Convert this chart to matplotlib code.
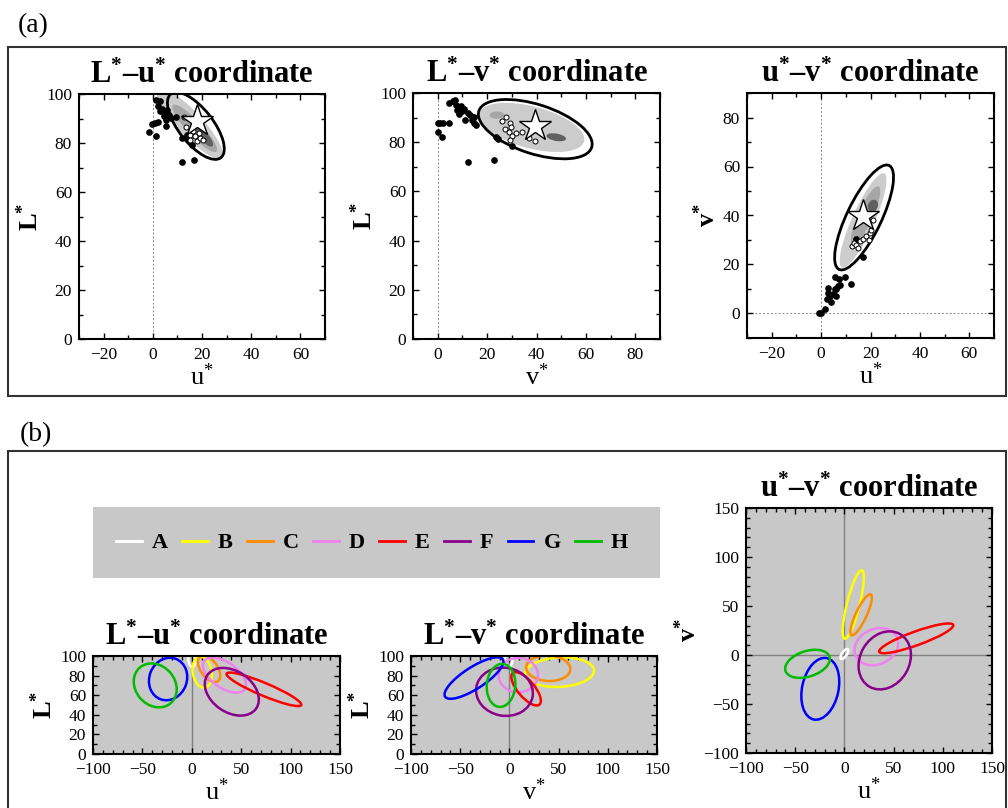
import matplotlib
matplotlib.use('Agg')
import matplotlib.pyplot as plt
from matplotlib.patches import Ellipse, Rectangle
from matplotlib.lines import Line2D
from matplotlib.ticker import MultipleLocator

plt.rcParams['font.family'] = ['Liberation Serif', 'DejaVu Serif']
plt.rcParams['mathtext.fontset'] = 'custom'
plt.rcParams['mathtext.rm'] = 'Liberation Serif'
plt.rcParams['mathtext.it'] = 'Liberation Serif:italic'
plt.rcParams['mathtext.bf'] = 'Liberation Serif:bold'

# ---------------- (a) one colour category ----------------
# L*-u* plane
lu_dot_u = [-1.4, 1.4, -0.3, 0.7, 2.2, 1.5, 2.8, 2.0, 3.8, 2.8, 4.7, 5.8, 6.5, 4.5, 5.4, 7.2,
            5.4, 9.5, 11.9, 13.9, 15.9, 11.9, 16.6, 14.3]
lu_dot_L = [84.5, 82.7, 87.9, 88.2, 88.4, 97.7, 97.0, 95.2, 93.9, 92.9, 92.2, 93.6, 91.6, 90.9, 89.5, 90.2,
            87.1, 90.6, 82.0, 83.4, 79.0, 72.1, 73.2, 81.4]
lu_in_u = [12.6, 13.6, 15.3, 16.4, 17.3, 18.0, 19.3, 20.4, 15.3, 18.6]
lu_in_L = [90.5, 86.5, 83.4, 84.8, 82.7, 80.7, 82.0, 81.4, 81.4, 84.1]
lu_star = (18.0, 88.8)
lu_ellipse = (17.5, 87.0, 33, 14, -52)          # centre x, centre y, major, minor, angle
lu_cloud = [(15, 88, 38, 10, -47), (17, 86, 26, 6, -47), (21, 82.5, 10, 3.5, -50)]

# L*-v* plane
lv_dot_v = [0.0, 1.1, 2.0, 0.0, 1.8, 4.7, 4.7, 6.2, 7.1, 7.5, 7.8, 8.5, 9.4, 9.8, 10.5, 11.2,
            12.1, 13.2, 13.9, 14.6, 14.8, 15.5, 12.3, 22.9, 23.6, 24.4, 30.0]
lv_dot_L = [87.8, 88.0, 88.0, 84.1, 82.1, 88.0, 95.9, 96.6, 97.3, 95.3, 92.9, 91.6, 94.6, 92.5, 93.6, 89.1,
            91.9, 90.9, 89.1, 87.8, 90.2, 87.1, 71.9, 72.6, 82.1, 81.4, 78.6]
lv_in_v = [26.0, 27.6, 29.4, 29.6, 27.4, 28.7, 31.5, 34.2, 30.1, 29.4, 36.8, 39.5]
lv_in_L = [88.5, 90.1, 87.8, 86.2, 85.3, 84.0, 83.7, 84.0, 82.4, 80.8, 81.7, 80.3]
lv_star = (39.2, 86.7)
lv_ellipse = (39.5, 85.3, 48, 20, -18)
lv_cloud = [(38, 86, 44, 17, -15), (24, 91, 6, 3, 0), (48, 82, 8, 3, -10)]

# u*-v* plane
uv_dot_u = [-0.9, 0.1, 1.5, 2.2, 2.8, 3.5, 4.2, 4.9, 5.5, 6.2, 6.9, 5.8, 7.3, 6.2, 7.6, 9.6,
            12.0, 16.8, 14.3, 2.8]
uv_dot_v = [0.1, 0.0, 1.8, 5.8, 8.5, 7.2, 4.5, 7.9, 9.9, 7.2, 11.2, 15.0, 14.2, 10.1, 11.8, 14.9,
            12.2, 23.1, 30.4, 10.5]
uv_in_u = [12.7, 13.4, 14.3, 15.7, 16.8, 18.1, 19.7, 19.2, 20.4, 21.1, 15.0]
uv_in_v = [27.5, 28.8, 28.1, 29.5, 30.5, 31.8, 32.9, 30.2, 34.2, 38.3, 26.8]
uv_star = (16.8, 39.6)
uv_ellipse = (17.4, 39.2, 47, 14, 64.5)
uv_cloud = [(17, 38, 42, 9, 66), (18, 40, 26, 6, 66), (21, 44, 5, 4, 66)]

# ---------------- (b) all eight categories ----------------
names = ['A', 'B', 'C', 'D', 'E', 'F', 'G', 'H']
colors = ['white', '#ffff00', '#ff8c00', '#ee82ee', '#ff0000', '#8b008b', '#0000ff', '#00bb00']
# (centre x, centre y, major, minor, angle of major axis)
lu_ells = [(0, 96, 14, 7, 95), (10.5, 83.5, 32, 19, 100), (17.5, 87, 31, 17, 125), (33, 80.5, 50, 26, 145),
           (73, 66, 82, 13, 157), (40.5, 63.5, 60, 42, 145), (-24, 76.5, 44, 38, 70), (-37, 70, 48, 40, 130)]
lv_ells = [(-1, 96, 14, 8, 90), (51, 83.5, 70, 30, 3), (39.5, 87.5, 45, 26, -3), (9, 80.5, 40, 35, 0),
           (17, 66.5, 42, 17, 130), (-5, 63.5, 58, 49, 170), (-36, 77.5, 70, 22, 33), (-8.5, 70, 44, 29, 85)]
uv_ells = [(0, 1, 12, 5, 55), (9, 51.5, 72, 13, 76), (17, 41, 46, 11, 65), (32.5, 8.5, 46, 36, 25),
           (73, 17, 80, 14, 20), (41, -5.5, 62, 50, 60), (-24.5, -34.5, 64, 37, 78), (-37.5, -9, 47, 26, 18)]

W, H = 1008, 808
fig = plt.figure(figsize=(W / 100, H / 100), dpi=100)


def box(l, t, r, b):
    return [l / W, 1 - b / H, (r - l) / W, (b - t) / H]


def ylab(s):
    return r'$\mathbf{%s^{*}}$' % s


def xlab(s):
    return r'%s$^{*}$' % s


def title(a, b):
    return r'%s$^{\mathbf{*}}$–%s$^{\mathbf{*}}$ coordinate' % (a, b)


def style(ax, xmaj, xmin, ymaj, ymin):
    ax.xaxis.set_major_locator(MultipleLocator(xmaj))
    ax.xaxis.set_minor_locator(MultipleLocator(xmin))
    ax.yaxis.set_major_locator(MultipleLocator(ymaj))
    ax.yaxis.set_minor_locator(MultipleLocator(ymin))
    ax.tick_params(which='both', direction='in', top=True, right=True, labelsize=12.5, width=1)
    ax.tick_params(which='major', length=4)
    ax.tick_params(which='minor', length=3)
    ax.tick_params(axis='x', pad=6)
    ax.tick_params(axis='y', pad=5)
    for s in ax.spines.values():
        s.set_linewidth(1.5)


# panel frames and labels
fig.add_artist(Rectangle((8 / W, 1 - 396 / H), 998 / W, 349 / H, transform=fig.transFigure,
                         fill=False, ec='#333333', lw=1.5))
fig.add_artist(Rectangle((8 / W, 1 - 812 / H), 998 / W, 361 / H, transform=fig.transFigure,
                         fill=False, ec='#333333', lw=1.5))
fig.text(18 / W, 1 - 26 / H, '(a)', fontsize=20, va='center')
fig.text(20 / W, 1 - 435 / H, '(b)', fontsize=20, va='center')

TSIZE = 22
LSIZE = 19

# ---------- (a) ----------
panels_a = [
    (box(79, 94, 325, 339), (-30, 70), (0, 100), 'L', 'u', lu_dot_u, lu_dot_L, lu_in_u, lu_in_L,
     lu_star, lu_ellipse, lu_cloud, False),
    (box(413, 93, 660, 339), (-10, 90), (0, 100), 'L', 'v', lv_dot_v, lv_dot_L, lv_in_v, lv_in_L,
     lv_star, lv_ellipse, lv_cloud, False),
    (box(747, 93, 994, 338), (-30, 70), (-10, 90), 'u', 'v', uv_dot_u, uv_dot_v, uv_in_u, uv_in_v,
     uv_star, uv_ellipse, uv_cloud, True),
]
shades = ['#cccccc', '#a6a6a6', '#606060']
for rect, xl, yl, yn, xn, dx, dy, ix, iy, star, ell, cloud, hline in panels_a:
    ax = fig.add_axes(rect)
    ax.set_xlim(*xl)
    ax.set_ylim(*yl)
    for (cx, cy, w, h, ang), c in zip(cloud, shades):
        ax.add_patch(Ellipse((cx, cy), w, h, angle=ang, fc=c, ec='none', zorder=1))
    ax.axvline(0, color='#888888', lw=0.7, ls=(0, (2, 2)), zorder=0)
    if hline:
        ax.axhline(0, color='#888888', lw=0.7, ls=(0, (2, 2)), zorder=0)
    cx, cy, w, h, ang = ell
    ax.add_patch(Ellipse((cx, cy), w, h, angle=ang, fill=False, ec='black', lw=2, zorder=3))
    ax.plot(dx, dy, 'o', color='black', ms=3.8, zorder=4)
    ax.plot(ix, iy, 'o', mfc='white', mec='black', mew=0.7, ms=3.6, zorder=4)
    ax.plot(star[0], star[1], '*', mfc='white', mec='black', mew=1, ms=24, zorder=5)
    style(ax, 20, 10, 20, 10)
    if hline:
        ax.set_xlabel(xlab('u'), fontsize=LSIZE)
        ax.set_ylabel(ylab('v'), fontsize=LSIZE)
        ax.set_title(title('u', 'v'), fontsize=TSIZE, fontweight='bold', pad=8)
    else:
        ax.set_xlabel(xlab(xn), fontsize=LSIZE)
        ax.set_ylabel(ylab('L'), fontsize=LSIZE)
        ax.set_title(title('L', xn), fontsize=TSIZE, fontweight='bold', pad=8)
    ax.xaxis.labelpad = 0
    ax.yaxis.labelpad = 2

# ---------- (b) ----------
panels_b = [
    (box(93, 656, 340, 754), (0, 100), 'L', 'u', lu_ells, 20, False),
    (box(411, 656, 657, 754), (0, 100), 'L', 'v', lv_ells, 20, False),
    (box(746, 508, 992, 753), (-100, 150), 'v', 'u', uv_ells, 50, True),
]
for rect, yl, yn, xn, ells, ymaj, hline in panels_b:
    ax = fig.add_axes(rect)
    ax.set_facecolor('#c8c8c8')
    ax.set_xlim(-100, 150)
    ax.set_ylim(*yl)
    ax.axvline(0, color='#808080', lw=1, zorder=0)
    if hline:
        ax.axhline(0, color='#808080', lw=1, zorder=0)
    for (cx, cy, w, h, ang), c in zip(ells, colors):
        ax.add_patch(Ellipse((cx, cy), w, h, angle=ang, fill=False, ec=c, lw=1.8, zorder=2))
    style(ax, 50, 10, ymaj, 10)
    ax.set_xlabel(xlab(xn), fontsize=LSIZE)
    ax.set_ylabel(ylab(yn), fontsize=LSIZE)
    ax.xaxis.labelpad = 0
    ax.yaxis.labelpad = 2
    if hline:
        ax.set_title(title('u', 'v'), fontsize=TSIZE, fontweight='bold', pad=8)
    else:
        ax.set_title(title('L', xn), fontsize=TSIZE, fontweight='bold', pad=8)

# legend box
fig.add_artist(Rectangle((93 / W, 1 - 578 / H), 567 / W, 71 / H, transform=fig.transFigure,
                         fc='#c8c8c8', ec='none', zorder=0))
handles = [Line2D([], [], color=c, lw=2) for c in colors]
fig.legend(handles, names, loc='center', bbox_to_anchor=(372 / W, 1 - 543 / H),
           ncol=8, frameon=False, prop={'weight': 'bold', 'size': 16},
           handlelength=1.15, handletextpad=0.45, columnspacing=0.65)

fig.savefig('out.png', dpi=100)
